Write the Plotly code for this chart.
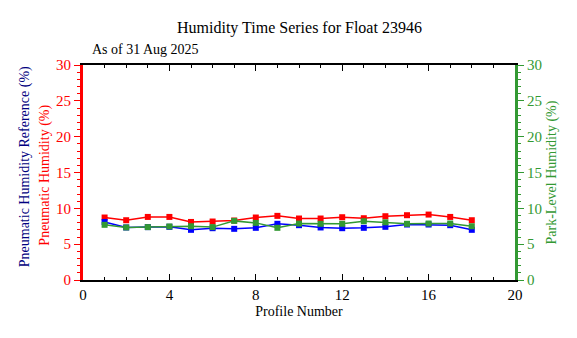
import plotly.graph_objects as go

profiles = list(range(1, 19))
pneumatic = [8.72, 8.34, 8.8, 8.8, 8.1, 8.16, 8.3, 8.72, 8.95, 8.58, 8.58, 8.76, 8.62, 8.9, 9.04, 9.13, 8.8, 8.34]
pneumatic_ref = [8.1, 7.33, 7.38, 7.42, 7.0, 7.23, 7.14, 7.28, 7.84, 7.65, 7.33, 7.23, 7.28, 7.42, 7.74, 7.74, 7.65, 7.0]
park_level = [7.7, 7.33, 7.38, 7.47, 7.5, 7.38, 8.25, 7.97, 7.28, 7.88, 7.84, 7.84, 8.2, 8.05, 7.84, 7.88, 7.88, 7.5]

RED = "#ff0000"
BLUE = "#0000ff"
GREEN = "#339933"
NAVY = "#000080"
FONT = "Liberation Serif"

fig = go.Figure()
fig.add_trace(go.Scatter(x=profiles, y=pneumatic, mode="lines+markers",
                         line=dict(color=RED, width=1.5),
                         marker=dict(symbol="square", size=6, color=RED), yaxis="y"))
fig.add_trace(go.Scatter(x=profiles, y=pneumatic_ref, mode="lines+markers",
                         line=dict(color=BLUE, width=1.5),
                         marker=dict(symbol="square", size=6, color=BLUE), yaxis="y"))
fig.add_trace(go.Scatter(x=profiles, y=park_level, mode="lines+markers",
                         line=dict(color=GREEN, width=1.5),
                         marker=dict(symbol="square", size=6, color=GREEN), yaxis="y2"))

fig.update_layout(
    width=577, height=338,
    margin=dict(l=83, r=62, t=65, b=58),
    paper_bgcolor="white", plot_bgcolor="white",
    showlegend=False,
    font=dict(family=FONT, size=14, color="black"),
    xaxis=dict(range=[0, 20], tickmode="linear", tick0=0, dtick=4,
               showgrid=False, zeroline=False,
               showline=True, linecolor="black", linewidth=2, mirror="ticks",
               ticks="inside", ticklen=6, tickwidth=1, tickcolor="black",
               minor=dict(dtick=1, ticks="inside", ticklen=3, tickcolor="black", showgrid=False),
               tickfont=dict(family=FONT, size=15, color="black"),
               title=dict(text="Profile Number", font=dict(family=FONT, size=14), standoff=4)),
    yaxis=dict(range=[0, 30], tickmode="linear", tick0=0, dtick=5,
               showgrid=False, zeroline=False,
               showline=True, linecolor=RED, linewidth=3,
               ticks="outside", ticklen=6, tickwidth=1, tickcolor=RED,
               minor=dict(dtick=1, ticks="outside", ticklen=3, tickcolor=RED, showgrid=False),
               tickfont=dict(family=FONT, size=15, color=RED)),
    yaxis2=dict(range=[0, 30], tickmode="linear", tick0=0, dtick=5,
                overlaying="y", side="right",
                showgrid=False, zeroline=False,
                showline=True, linecolor=GREEN, linewidth=3,
                ticks="outside", ticklen=6, tickwidth=1, tickcolor=GREEN,
                minor=dict(dtick=1, ticks="outside", ticklen=3, tickcolor=GREEN, showgrid=False),
                tickfont=dict(family=FONT, size=15, color=GREEN)),
    annotations=[
        dict(text="Humidity Time Series for Float 23946", xref="paper", yref="paper",
             x=0.5, y=1.172, xanchor="center", yanchor="middle", showarrow=False,
             font=dict(family=FONT, size=16, color="black")),
        dict(text="As of 31 Aug 2025", xref="paper", yref="paper",
             x=0.016, y=1.07, xanchor="left", yanchor="middle", showarrow=False,
             font=dict(family=FONT, size=14, color="black")),
        dict(text="Pneumatic Humidity Reference (%)", xref="paper", yref="paper",
             x=-0.134, y=0.525, xanchor="center", yanchor="middle", textangle=-90,
             showarrow=False, font=dict(family=FONT, size=14, color=NAVY)),
        dict(text="Pneumatic Humidity (%)", xref="paper", yref="paper",
             x=-0.088, y=0.49, xanchor="center", yanchor="middle", textangle=-90,
             showarrow=False, font=dict(family=FONT, size=14, color=RED)),
        dict(text="Park-Level Humidity (%)", xref="paper", yref="paper",
             x=1.0856, y=0.5, xanchor="center", yanchor="middle", textangle=-90,
             showarrow=False, font=dict(family=FONT, size=14, color=GREEN)),
    ],
)

fig.write_html("out.html")
